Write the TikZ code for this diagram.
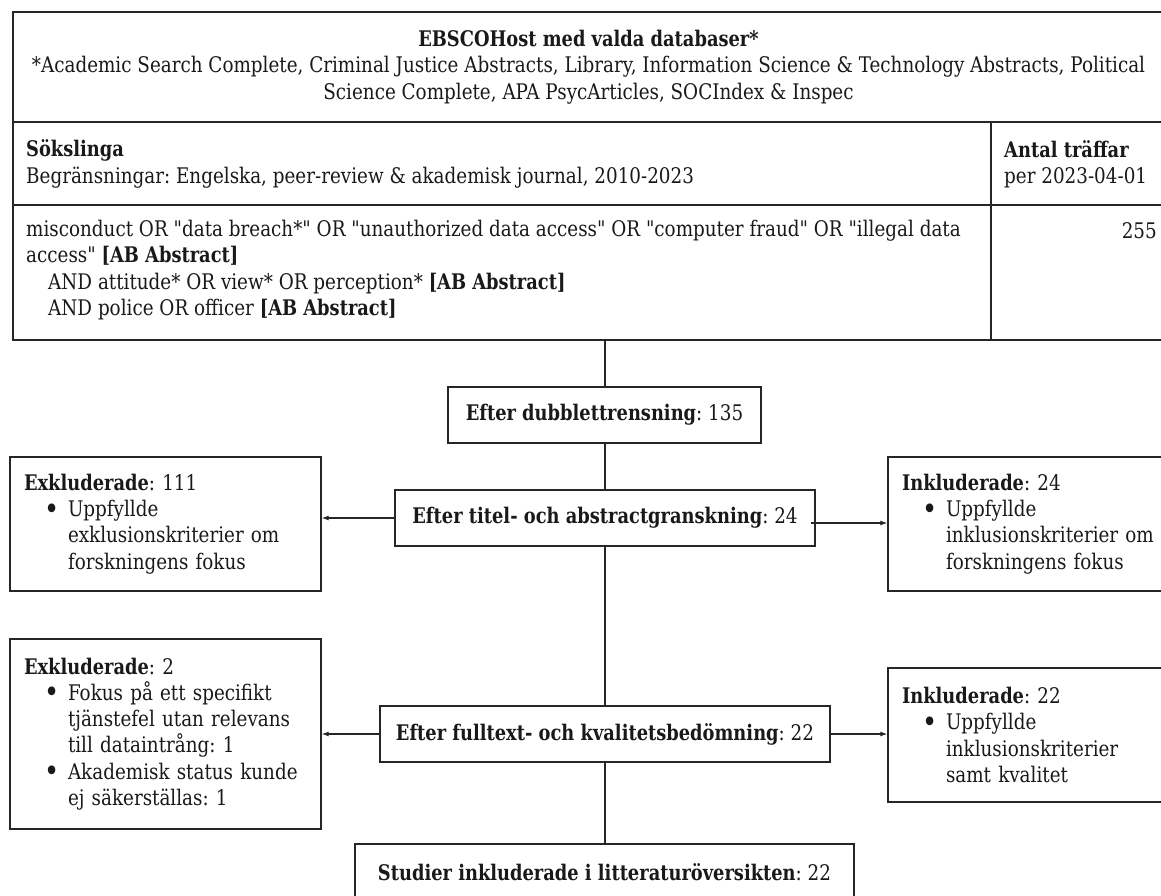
\documentclass[tikz,border=0pt]{standalone}
\usepackage{fontspec}
\setmainfont{DejaVu Serif}[FakeStretch=0.853, BoldFeatures={FakeStretch=0.83}, Ligatures=TeXOff]
\usetikzlibrary{arrows.meta}
\newcommand\myfs{\fontsize{21.5pt}{26.3pt}\selectfont\frenchspacing}
\newcommand\bitem{\hspace*{20pt}\makebox[24pt][l]{\raisebox{-2.4pt}{\scalebox{1.4}{\textbullet}}}}
\newcommand\bcont{\hspace*{44pt}}
\begin{document}
\begin{tikzpicture}[x=1pt,y=-1pt,
  every node/.style={font=\myfs, text=black!90},
  tline/.style={line width=1.3pt, draw=black!85},
  txt/.style={inner sep=0pt, align=left},
  flowbox/.style={draw=black!85, line width=1.3pt, inner sep=0pt, minimum height=56pt, align=center},
  sidebox/.style={draw=black!85, line width=1.3pt, inner xsep=14pt, inner ysep=0pt, align=left},
  conn/.style={line width=1.1pt, draw=black!85},
  arr/.style={conn, -{Latex[length=7pt,width=5pt]}}
]
\useasboundingbox (0,0) rectangle (1161,895);
\clip (0,0) rectangle (1161,895);

% search table
\draw[tline] (1175,12) -- (13,12) -- (13,340) -- (1175,340);
\draw[tline] (13,122) -- (1175,122);
\draw[tline] (13,205) -- (1175,205);
\draw[tline] (991,122) -- (991,340);

\node[txt, align=center] (hdr) at (588.5,67) {\textbf{EBSCOHost med valda databaser*}\\
*Academic Search Complete, Criminal Justice Abstracts, Library, Information Science \& Technology Abstracts, Political\\
Science Complete, APA PsycArticles, SOCIndex \& Inspec};

\node[txt, anchor=west] (sok) at (26,164) {\textbf{Sökslinga}\\
Begränsningar: Engelska, peer-review \& akademisk journal, 2010-2023};
\node[txt, anchor=west] (ant) at (1004,164) {\textbf{Antal träffar}\\per 2023-04-01};

\node[txt, anchor=west] (qry) at (26,270) {misconduct OR "data breach*" OR "unauthorized data access" OR "computer fraud" OR "illegal data\\
access" \textbf{[AB Abstract]}\\
\hspace*{22pt}AND attitude* OR view* OR perception* \textbf{[AB Abstract]}\\
\hspace*{22pt}AND police OR officer \textbf{[AB Abstract]}};
\node[txt, anchor=east] (hits) at (1157,231) {255};

\coordinate (tb) at (605,340);

% flow boxes
\node[flowbox, minimum width=313pt] (dub) at (604.5,415) {\textbf{Efter dubblettrensning}: 135};
\node[flowbox, minimum width=420pt] (tit) at (605,518) {\textbf{Efter titel- och abstractgranskning}: 24};
\node[flowbox, minimum width=450pt] (ful) at (605,734) {\textbf{Efter fulltext- och kvalitetsbedömning}: 22};
\node[flowbox, minimum width=499pt] (fin) at (604.5,872) {\textbf{Studier inkluderade i litteraturöversikten}: 22};

\node[sidebox, text width=283pt, minimum height=134pt] (exa) at (165.5,524) {\textbf{Exkluderade}: 111\\
\bitem Uppfyllde\\
\bcont exklusionskriterier om\\
\bcont forskningens fokus};
\node[sidebox, text width=272pt, minimum height=134pt] (ina) at (1038,524) {\textbf{Inkluderade}: 24\\
\bitem Uppfyllde\\
\bcont inklusionskriterier om\\
\bcont forskningens fokus};
\node[sidebox, text width=283pt, minimum height=190pt] (exb) at (165.5,734) {\textbf{Exkluderade}: 2\\
\bitem Fokus på ett specifikt\\
\bcont tjänstefel utan relevans\\
\bcont till dataintrång: 1\\
\bitem Akademisk status kunde\\
\bcont ej säkerställas: 1};
\node[sidebox, text width=272pt, minimum height=134pt] (inb) at (1038,735) {\textbf{Inkluderade}: 22\\
\bitem Uppfyllde\\
\bcont inklusionskriterier\\
\bcont samt kvalitet};

% connectors
\draw[conn] (tb) -- (tb |- dub.north);
\draw[conn] (tb |- dub.south) -- (tb |- tit.north);
\draw[conn] (tb |- tit.south) -- (tb |- ful.north);
\draw[conn] (tb |- ful.south) -- (tb |- fin.north);

\draw[arr] (tit.west) -- (tit.west -| exa.east);
\draw[arr] ([xshift=-5pt,yshift=-5pt]tit.east) -- ([yshift=-5pt]tit.east -| ina.west);
\draw[arr] (ful.west) -- (ful.west -| exb.east);
\draw[arr] (ful.east) -- (ful.east -| inb.west);
\end{tikzpicture}
\end{document}
